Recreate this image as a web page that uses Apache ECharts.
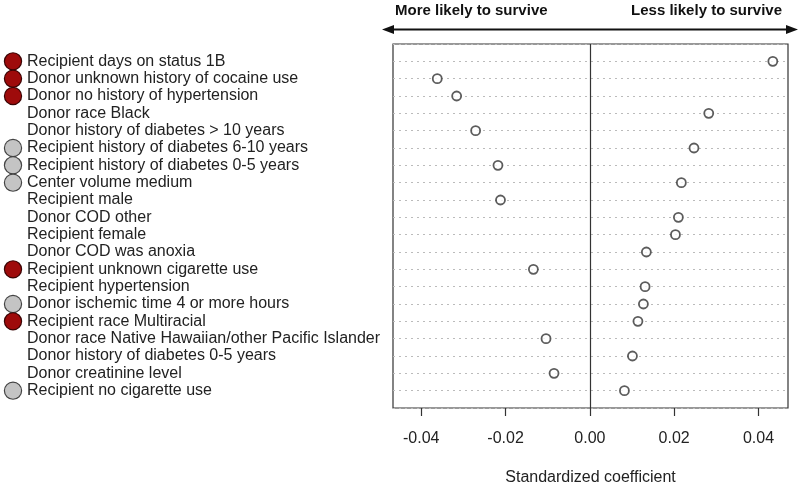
<!DOCTYPE html>
<html>
<head>
<meta charset="utf-8">
<script src="https://cdn.jsdelivr.net/npm/echarts@6/dist/echarts.min.js"></script>
<style>html,body{margin:0;padding:0;background:#fff}#c{width:800px;height:486px}</style>
</head>
<body>
<div id="c"></div>
<script>
var labels = [
  "Recipient days on status 1B",
  "Donor unknown history of cocaine use",
  "Donor no history of hypertension",
  "Donor race Black",
  "Donor history of diabetes > 10 years",
  "Recipient history of diabetes 6-10 years",
  "Recipient history of diabetes 0-5 years",
  "Center volume medium",
  "Recipient male",
  "Donor COD other",
  "Recipient female",
  "Donor COD was anoxia",
  "Recipient unknown cigarette use",
  "Recipient hypertension",
  "Donor ischemic time 4 or more hours",
  "Recipient race Multiracial",
  "Donor race Native Hawaiian/other Pacific Islander",
  "Donor history of diabetes 0-5 years",
  "Donor creatinine level",
  "Recipient no cigarette use"
];
var coefficients = [0.0434, -0.0362, -0.0316, 0.0282, -0.0271, 0.0247, -0.0218, 0.0217, -0.0212, 0.0210,
  0.0203, 0.0134, -0.0134, 0.0131, 0.0127, 0.0114, -0.0104, 0.0101, -0.0085, 0.0082];
// marker flag per row: 'red', 'gray' or 'none'
var markers = ["red","red","red","none","none","gray","gray","gray","none","none",
  "none","none","red","none","gray","red","none","none","none","gray"];
var xTicks = [-0.04, -0.02, 0.00, 0.02, 0.04];

var cats = [""].concat(labels).concat([""]);
var markerOf = {};
labels.forEach(function(l, i){ markerOf[l] = markers[i]; });
var data = labels.map(function(l, i){ return [coefficients[i], l]; });

var chart = echarts.init(document.getElementById('c'));
var font = 'Liberation Sans, Arial, sans-serif';
chart.setOption({
  animation: false,
  textStyle: { fontFamily: font },
  grid: { left: 393, right: 12, top: 44, bottom: 78, show: true, borderColor: '#333', borderWidth: 1.2,
    containLabel: false, outerBoundsMode: 'none' },
  xAxis: {
    type: 'value', min: -0.0467, max: 0.0470,
    name: 'Standardized coefficient', nameLocation: 'middle', nameGap: 62,
    nameTextStyle: { fontSize: 16, color: '#222', fontFamily: font },
    axisLine: { show: false },
    axisTick: { show: true, length: 8, lineStyle: { color: '#333', width: 1.2 }, customValues: xTicks },
    axisLabel: { fontSize: 16, color: '#222', margin: 23, customValues: xTicks,
      formatter: function(v){ return v.toFixed(2); } },
    splitLine: { show: false }
  },
  yAxis: {
    type: 'category', inverse: true, boundaryGap: false, data: cats,
    axisLine: { show: false }, axisTick: { show: false },
    splitLine: { show: true, lineStyle: { type: [2, 4], color: '#bbb', width: 1 } },
    axisLabel: {
      interval: 0, align: 'left', margin: 388, fontSize: 16, color: '#222',
      formatter: function(v){
        if (!v) return '';
        var m = markerOf[v];
        return '{' + m + '|}{t|' + v + '}';
      },
      rich: {
        red: { width: 16, height: 16, borderRadius: 8, backgroundColor: '#9e0b0b', borderColor: '#3a0505', borderWidth: 1.2 },
        gray: { width: 16, height: 16, borderRadius: 8, backgroundColor: '#c4c4c4', borderColor: '#444', borderWidth: 1.2 },
        none: { width: 16, height: 16 },
        t: { fontSize: 16, color: '#222', padding: [0, 0, 0, 6], fontFamily: font }
      }
    }
  },
  series: [{
    type: 'scatter', data: data, symbol: 'circle', symbolSize: 9,
    itemStyle: { color: '#fff', borderColor: '#333', borderWidth: 1.8 },
    markLine: { silent: true, symbol: 'none', label: { show: false },
      lineStyle: { type: 'solid', color: '#333', width: 1.2 }, data: [{ xAxis: 0 }] }
  }],
  graphic: [
    { type: 'text', left: 395, top: 3, style: { text: 'More likely to survive', font: 'bold 15px ' + font, fill: '#111' } },
    { type: 'text', right: 18, top: 3, style: { text: 'Less likely to survive', font: 'bold 15px ' + font, fill: '#111' } },
    { type: 'line', shape: { x1: 390, y1: 29.5, x2: 790, y2: 29.5 }, style: { stroke: '#111', lineWidth: 2 } },
    { type: 'polygon', shape: { points: [[382, 29.5], [394, 25], [394, 34]] }, style: { fill: '#111' } },
    { type: 'polygon', shape: { points: [[798, 29.5], [786, 25], [786, 34]] }, style: { fill: '#111' } }
  ]
});
</script>
</body>
</html>
